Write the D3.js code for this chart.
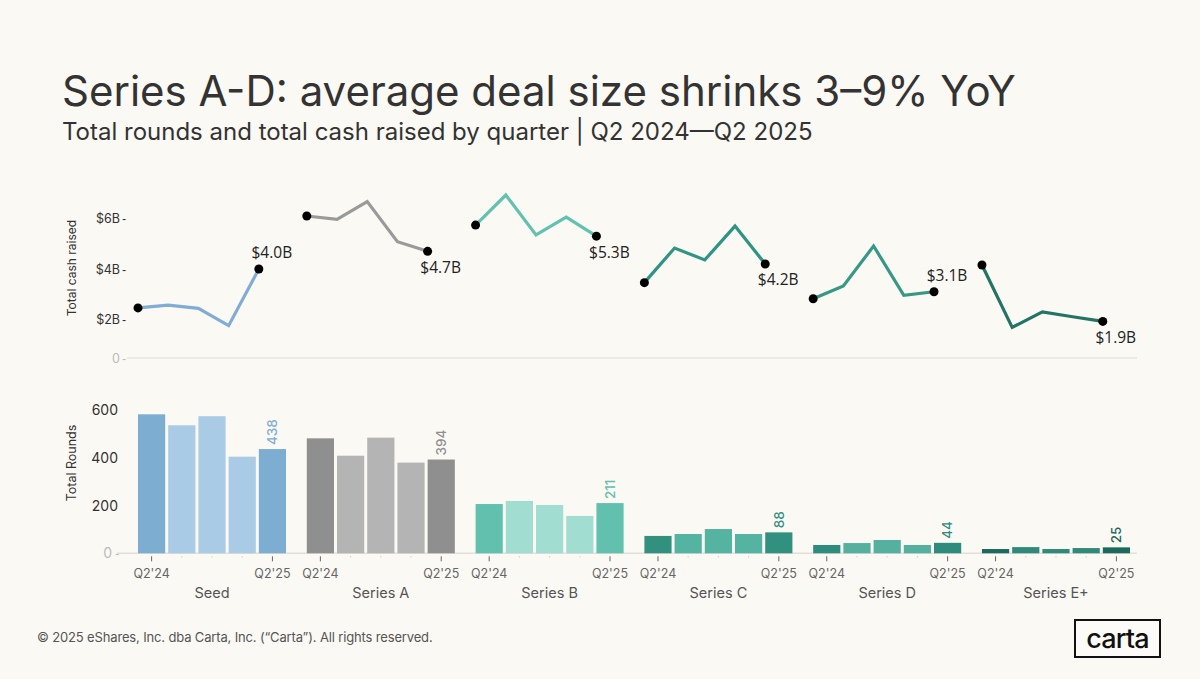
<!DOCTYPE html>
<html>
<head>
<meta charset="utf-8">
<script src="https://cdn.jsdelivr.net/npm/d3@7"></script>
<style>
  html, body { margin: 0; padding: 0; background: #fbf9f4; }
  svg { display: block; font-family: Inter, "Noto Sans", sans-serif; }
</style>
</head>
<body>
<svg id="chart" width="1200" height="679"></svg>
<script>
// series (stage) names, quarters
const stages = ["Seed", "Series A", "Series B", "Series C", "Series D", "Series E+"];
const quarters = ["Q2'24", "Q3'24", "Q4'24", "Q1'25", "Q2'25"];

// total rounds per quarter, per stage
const roundsSeed = [584, 538, 576, 406, 438];
const roundsA = [483, 410, 486, 381, 394];
const roundsB = [207, 220, 203, 157, 211];
const roundsC = [73, 81, 102, 81, 88];
const roundsD = [35, 43, 56, 35, 44];
const roundsE = [18, 26, 18, 22, 25];

// total cash raised ($B) per quarter, per stage
const cashSeed = [2.46, 2.57, 2.44, 1.68, 4.0];
const cashA = [6.1, 5.97, 6.67, 5.08, 4.7];
const cashB = [5.74, 6.93, 5.35, 6.05, 5.3];
const cashC = [3.46, 4.83, 4.36, 5.7, 4.2];
const cashD = [2.82, 3.33, 4.91, 2.96, 3.1];
const cashE = [4.16, 1.59, 2.3, 2.11, 1.9];

const cashTicks = [0, 2, 6, 4];
const roundTicks = [0, 200, 400, 600];

const rounds = [roundsSeed, roundsA, roundsB, roundsC, roundsD, roundsE];
const cash = [cashSeed, cashA, cashB, cashC, cashD, cashE];

// dark = first/last quarter bars + labels, light = middle bars, line colour
const darkColors = ["#7eadd2", "#8f8f8f", "#62c0ae", "#32907f", "#2f8b7b", "#1d6a5c"];
const lightColors = ["#aacbe6", "#b4b4b4", "#a2ddd2", "#55b3a2", "#55b09f", "#2f8a7a"];
const lineColors = ["#80acd5", "#9a9a9a", "#62c2af", "#2f9483", "#389886", "#237464"];

const svg = d3.select("#chart");

// titles
svg.append("text").attr("x", 62).attr("y", 106)
    .attr("font-size", 42).attr("fill", "#333")
    .text("Series A-D: average deal size shrinks 3\u20139% YoY");
svg.append("text").attr("x", 62).attr("y", 140)
    .attr("font-size", 24).attr("fill", "#333")
    .text("Total rounds and total cash raised by quarter | Q2 2024\u2014Q2 2025");

// scales
const groupX = d3.scaleBand().domain(stages).range([138, 1130]).paddingInner(0.123).paddingOuter(0);
const innerX = d3.scaleBand().domain(quarters).range([0, groupX.bandwidth()]).paddingInner(0.1);

// cash axis drawn with a break: 0 sits closer to $2B than the $2B steps
const yCash = d3.scaleLinear().domain([0, 2, 6]).range([358, 319.5, 218.5]);
const yRounds = d3.scaleLinear().domain([0, 600]).range([553.3, 410.5]);

// ---------- top: total cash raised ----------
svg.append("line").attr("x1", 127).attr("x2", 1137)
    .attr("y1", yCash(0)).attr("y2", yCash(0))
    .attr("stroke", "#e8e5df").attr("stroke-width", 1.5);

const cashAxis = svg.append("g").attr("transform", "translate(120,0)")
    .call(d3.axisLeft(yCash).tickValues(cashTicks)
        .tickFormat(d => d === 0 ? "0" : "$" + d + "B").tickSize(0).tickPadding(0));
cashAxis.select(".domain").remove();
cashAxis.selectAll("text").attr("font-size", 12.5).attr("fill", d => d === 0 ? "#bbb" : "#333")
    .attr("font-family", "Inter, sans-serif");
cashAxis.selectAll(".tick").append("text").text("-")
    .attr("x", 2).attr("dy", "0.32em").attr("text-anchor", "start")
    .attr("font-size", 12.5).attr("fill", d => d === 0 ? "#bbb" : "#333");

svg.append("text").attr("transform", "translate(76,268) rotate(-90)")
    .attr("text-anchor", "middle").attr("font-size", 12).attr("fill", "#333")
    .text("Total cash raised");

const line = d3.line()
    .x((d, i) => innerX(quarters[i]))
    .y(d => yCash(d));

const labelAbove = [true, false, false, false, true, false];

stages.forEach((s, si) => {
    const g = svg.append("g").attr("transform", `translate(${groupX(s)},0)`);
    const vals = cash[si];
    g.append("path").datum(vals).attr("d", line)
        .attr("fill", "none").attr("stroke", lineColors[si]).attr("stroke-width", 3.2)
        .attr("stroke-linejoin", "miter");
    [0, vals.length - 1].forEach(i => {
        g.append("circle").attr("cx", innerX(quarters[i])).attr("cy", yCash(vals[i]))
            .attr("r", 4.5).attr("fill", "#000");
    });
    const last = vals.length - 1;
    g.append("text")
        .attr("x", innerX(quarters[last]) + 13)
        .attr("y", yCash(vals[last]) + (labelAbove[si] ? -16 : 16))
        .attr("dy", "0.35em").attr("text-anchor", "middle")
        .attr("font-size", 15.5).attr("fill", "#222")
        .attr("font-family", "'Open Sans', sans-serif")
        .text("$" + vals[last].toFixed(1) + "B");
});

// ---------- bottom: total rounds ----------
svg.append("line").attr("x1", 117).attr("x2", 1137)
    .attr("y1", yRounds(0)).attr("y2", yRounds(0))
    .attr("stroke", "#e3e0da").attr("stroke-width", 1.5);

const roundAxis = svg.append("g").attr("transform", "translate(118,0)")
    .call(d3.axisLeft(yRounds).tickValues(roundTicks).tickSize(0).tickPadding(0));
roundAxis.select(".domain").remove();
roundAxis.selectAll("text").attr("font-size", 14).attr("fill", d => d === 0 ? "#bbb" : "#333")
    .attr("font-family", "Inter, sans-serif")
    .attr("dx", d => d === 0 ? -6 : 0);
roundAxis.selectAll(".tick").filter(d => d === 0).append("text").text("-")
    .attr("x", -3).attr("dy", "0.32em").attr("text-anchor", "start")
    .attr("font-size", 13).attr("fill", "#bbb");

svg.append("text").attr("transform", "translate(76,463) rotate(-90)")
    .attr("text-anchor", "middle").attr("font-size", 12.5).attr("fill", "#333")
    .text("Total Rounds");

stages.forEach((s, si) => {
    const g = svg.append("g").attr("transform", `translate(${groupX(s)},0)`);
    const vals = rounds[si];
    const last = vals.length - 1;
    g.selectAll("rect").data(vals).join("rect")
        .attr("x", (d, i) => innerX(quarters[i]))
        .attr("width", innerX.bandwidth())
        .attr("y", d => yRounds(d))
        .attr("height", d => yRounds(0) - yRounds(d))
        .attr("fill", (d, i) => (i === 0 || i === last) ? darkColors[si] : lightColors[si]);

    // value label on latest quarter, rotated
    const cx = innerX(quarters[last]) + innerX.bandwidth() / 2;
    g.append("text")
        .attr("transform", `translate(${cx},${yRounds(vals[last]) - 4}) rotate(-90)`)
        .attr("dy", "0.35em").attr("text-anchor", "start")
        .attr("font-size", 13.5).attr("font-weight", 500).attr("fill", darkColors[si])
        .text(vals[last]);

    // quarter ticks
    quarters.forEach((q, i) => {
        const x = innerX(q) + innerX.bandwidth() / 2;
        const big = i === 0 || i === last;
        g.append("line").attr("x1", x).attr("x2", x)
            .attr("y1", yRounds(0) + 3).attr("y2", yRounds(0) + (big ? 8 : 4))
            .attr("stroke", big ? "#666" : "#bbb").attr("stroke-width", 1);
        if (big) {
            g.append("text").attr("x", x).attr("y", yRounds(0) + 20)
                .attr("dy", "0.35em").attr("text-anchor", "middle")
                .attr("font-size", 12.5).attr("fill", "#666").text(q);
        }
    });

    g.append("text").attr("x", groupX.bandwidth() / 2).attr("y", yRounds(0) + 40)
        .attr("dy", "0.35em").attr("text-anchor", "middle")
        .attr("font-size", 14.5).attr("fill", "#555").text(s);
});

// ---------- footer ----------
svg.append("text").attr("x", 37).attr("y", 637).attr("dy", "0.35em")
    .attr("font-size", 13).attr("fill", "#555").attr("letter-spacing", -0.15)
    .text("\u00a9 2025 eShares, Inc. dba Carta, Inc. (\u201cCarta\u201d). All rights reserved.");

svg.append("rect").attr("x", 1075).attr("y", 620).attr("width", 85).attr("height", 37)
    .attr("fill", "#fcfbf8").attr("stroke", "#111").attr("stroke-width", 2);
svg.append("text").attr("x", 1117.5).attr("y", 638.5).attr("dy", "0.35em")
    .attr("text-anchor", "middle").attr("font-size", 27).attr("font-weight", 500)
    .attr("fill", "#111").attr("letter-spacing", -0.8).text("carta");
</script>
</body>
</html>
